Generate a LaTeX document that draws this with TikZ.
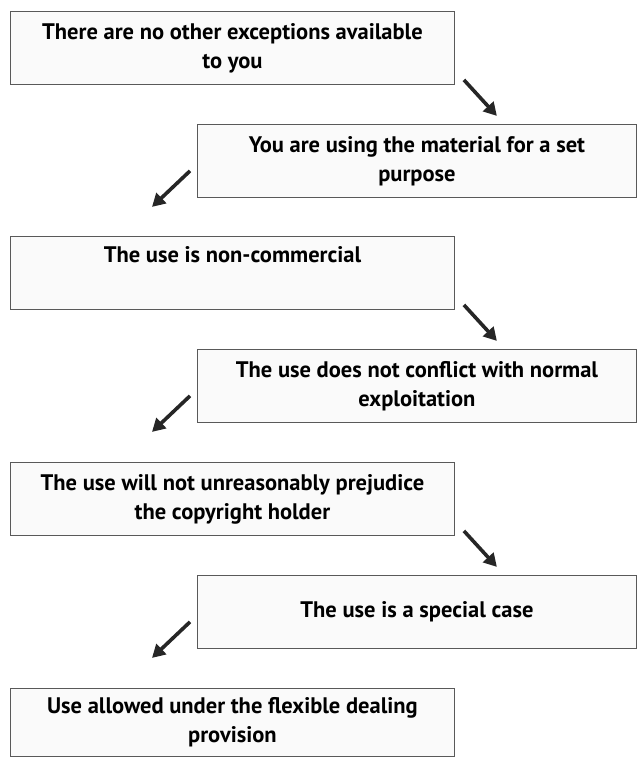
\documentclass[tikz,border=0pt]{standalone}
\usepackage{fontspec}
\setmainfont{PT Sans}
\usetikzlibrary{arrows.meta}

\tikzset{
  stepbox/.style={draw=black!65, line width=0.9pt, fill=black!2, anchor=north west,
    minimum height=73pt, align=center, inner sep=0pt,
    font=\fontsize{22.5}{29}\selectfont\bfseries},
  leftbox/.style={stepbox, minimum width=444pt},
  rightbox/.style={stepbox, minimum width=439pt},
  flow/.style={-{Triangle[length=13pt,width=14pt]}, line width=3.6pt, black!85},
}

\begin{document}
\begin{tikzpicture}[x=1pt,y=-1pt]
\useasboundingbox (0,0) rectangle (637,757);

% Colonne en zigzag : boîtes à gauche et à droite
\node[leftbox] (none) at (10,11) {There are no other exceptions available\\to you};
\node[rightbox] (purpose) at (197,124) {You are using the material for a set\\purpose};
\node[leftbox] (noncom) at (10,236) {The use is non-commercial\\\strut};
\node[rightbox] (exploit) at (197,349) {The use does not conflict with normal\\exploitation};
\node[leftbox] (prejud) at (10,462) {The use will not unreasonably prejudice\\the copyright holder};
\node[rightbox] (special) at (197,575) {The use is a special case};
\node[leftbox, minimum height=68pt] (allowed) at (10,688) {Use allowed under the flexible dealing\\provision};

% Flèches vers le bas à droite
\draw[flow] ([shift={(9,-5)}]none.south east) -- ([shift={(42,31)}]none.south east);
\draw[flow] ([shift={(9,-5)}]noncom.south east) -- ([shift={(42,31)}]noncom.south east);
\draw[flow] ([shift={(9,-5)}]prejud.south east) -- ([shift={(42,31)}]prejud.south east);

% Flèches vers le bas à gauche
\draw[flow] ([shift={(-7,-27)}]purpose.south west) -- ([shift={(-45,9)}]purpose.south west);
\draw[flow] ([shift={(-7,-27)}]exploit.south west) -- ([shift={(-45,9)}]exploit.south west);
\draw[flow] ([shift={(-7,-27)}]special.south west) -- ([shift={(-45,9)}]special.south west);
\end{tikzpicture}
\end{document}
